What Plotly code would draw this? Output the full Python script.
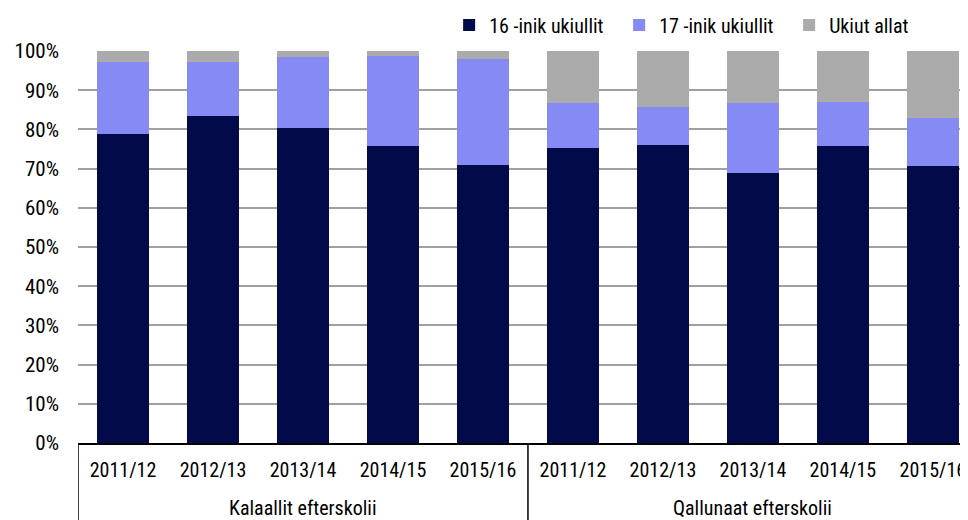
import plotly.graph_objects as go

group_names = ["Kalaallit efterskolii", "Qallunaat efterskolii"]
years = ["2011/12", "2012/13", "2013/14", "2014/15", "2015/16"] * 2

# cumulative tops (%)
top_16 = [78.8, 83.3, 80.4, 75.8, 71.0, 75.2, 76.0, 68.9, 75.7, 70.7]
top_17 = [97.3, 97.3, 98.5, 98.8, 98.0, 86.7, 85.6, 86.7, 87.1, 82.9]

age_16 = top_16
age_17 = [round(b - a, 1) for a, b in zip(top_16, top_17)]
other = [round(100 - b, 1) for b in top_17]

names = ["16 -inik ukiullit", "17 -inik ukiullit", "Ukiut allat"]
colors = ["#020A4A", "#868AF4", "#ABABAB"]

FONT = "Roboto Condensed, Liberation Sans Narrow, sans-serif"

pos = list(range(len(years)))
per_group = len(years) // len(group_names)

fig = go.Figure()
for name, vals, col in zip(names, [age_16, age_17, other], colors):
    fig.add_trace(go.Bar(
        x=pos,
        y=vals,
        name=name,
        marker=dict(color=col, line=dict(width=0)),
    ))

# group labels and dividers under the axis
for g, label in enumerate(group_names):
    centre = g * per_group + (per_group - 1) / 2
    fig.add_annotation(
        x=centre, y=-0.166, xref="x", yref="paper",
        text=label, showarrow=False, yanchor="middle",
        font=dict(family=FONT, size=20, color="black"),
    )
for b in range(len(group_names) + 1):
    fig.add_shape(
        type="line", xref="x", yref="paper",
        x0=b * per_group - 0.5, x1=b * per_group - 0.5,
        y0=0, y1=-0.2,
        line=dict(color="black", width=1.5),
    )

# page body adds an 8px offset, so the figure is 8px smaller than the window
fig.update_layout(
    barmode="stack",
    bargap=0.42,
    width=960,
    height=512,
    margin=dict(l=70, r=0, t=43, b=77, autoexpand=False),
    plot_bgcolor="white",
    paper_bgcolor="white",
    font=dict(family=FONT, size=20, color="black"),
    showlegend=True,
    legend=dict(
        orientation="h",
        x=0.417, xanchor="left",
        yref="container", y=0.967, yanchor="middle",
        font=dict(size=20),
        entrywidth=125,
        itemwidth=30,
        traceorder="normal",
        bgcolor="rgba(0,0,0,0)",
    ),
)
fig.update_yaxes(
    range=[0, 100],
    tickvals=list(range(0, 101, 10)),
    ticktext=[f"{v}%" for v in range(0, 101, 10)],
    tickfont=dict(size=21),
    showgrid=True,
    gridcolor="#A0A0A0",
    gridwidth=2,
    zeroline=False,
    showline=False,
    ticks="",
    ticklabelstandoff=18,
    automargin=False,
)
fig.update_xaxes(
    range=[-0.5, 9.39],
    tickvals=pos,
    ticktext=years,
    showline=True,
    linecolor="black",
    linewidth=1.5,
    showgrid=False,
    ticks="",
    ticklabelstandoff=8,
    automargin=False,
)

fig.write_html("out.html")
